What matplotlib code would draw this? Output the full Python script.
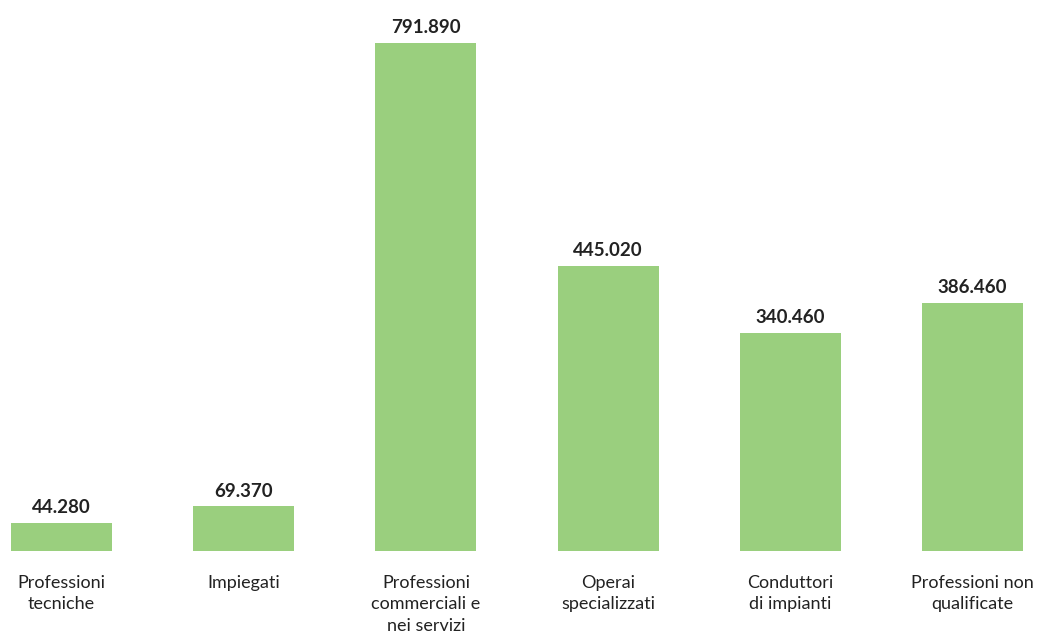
import matplotlib
matplotlib.use("Agg")
import matplotlib.pyplot as plt

categories = ["Professioni\ntecniche", "Impiegati", "Professioni\ncommerciali e\nnei servizi",
              "Operai\nspecializzati", "Conduttori\ndi impianti", "Professioni non\nqualificate"]
values = [44280, 69370, 791890, 445020, 340460, 386460]
value_labels = ["44.280", "69.370", "791.890", "445.020", "340.460", "386.460"]

plt.rcParams['font.family'] = ['Lato', 'DejaVu Sans']

fig = plt.figure(figsize=(10.39, 6.35), dpi=100)
ax = fig.add_axes([0, 84/635, 1, 551/635])
x = list(range(len(categories)))
bars = ax.bar(x, values, width=0.554, color="#9ACF7E")
ax.set_xlim(-61.5/182.2, 5 + (1039-972.5)/182.2)
ax.set_ylim(0, 791890*551/508)
for xi, v, lab in zip(x, values, value_labels):
    ax.annotate(lab, (xi, v), xytext=(0, 5), textcoords="offset points",
                ha="center", va="bottom", fontsize=13.5, fontweight="bold", color="#222222")
ax.set_xticks(x)
ax.set_xticklabels(categories, fontsize=13, color="#222222", linespacing=1.45)
ax.tick_params(axis="x", length=0, pad=17)
ax.set_yticks([])
for s in ax.spines.values():
    s.set_visible(False)
fig.savefig("out.png", dpi=100)
